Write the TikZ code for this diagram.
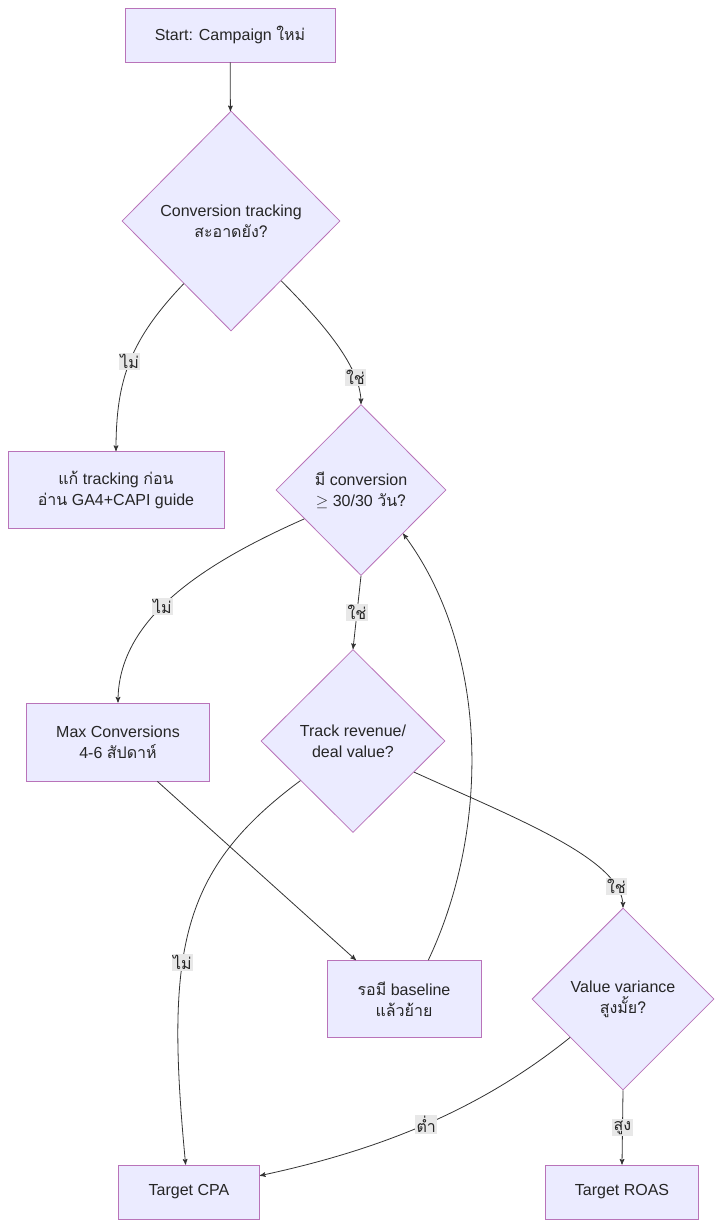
\documentclass[tikz,border=0pt]{standalone}
\usepackage{fontspec}
\setmainfont{Liberation Sans}
\newfontfamily\thaifont[Script=Thai]{Loma}
\newcommand{\thaitxt}[1]{{\thaifont #1}}
\usetikzlibrary{arrows,shapes.geometric}

\begin{document}
\begin{tikzpicture}[x=0.75pt,y=-0.75pt,->,>=stealth',semithick,
    every node/.style={font=\fontsize{12}{16}\selectfont,text=black!85,align=center},
    box/.style={shape=rectangle,draw=violet!55,fill=blue!8,inner sep=0pt},
    choice/.style={shape=diamond,draw=violet!55,fill=blue!8,inner sep=0pt},
    lbl/.style={fill=black!9,inner sep=1pt,text=black!85}]
                \useasboundingbox (0,0) rectangle (723,1227);
                \tikzset{every path/.append style={draw=black!80}}
                \node[box,minimum width=157.5pt,minimum height=40.5pt](start)at(230,35){Start: Campaign \thaitxt{ใหม่}};
                \node[choice,minimum width=163.5pt,minimum height=165pt](tracking)at(231,221){Conversion tracking\\\thaitxt{สะอาดยัง?}};
                \node[box,minimum width=162pt,minimum height=57.75pt](fix)at(116,490){\thaitxt{แก้} tracking \thaitxt{ก่อน}\\\thaitxt{อ่าน} GA4+CAPI guide};
                \node[choice,minimum width=127.5pt,minimum height=128.25pt](volume)at(361,490){\thaitxt{มี} conversion\\$\geq$ 30/30 \thaitxt{วัน?}};
                \node[box,minimum width=137.25pt,minimum height=58.5pt](maxconv)at(118,742){Max Conversions\\4-6 \thaitxt{สัปดาห์}};
                \node[choice,minimum width=138pt,minimum height=137.25pt](revenue)at(353,741){Track revenue/\\deal value?};
                \node[box,minimum width=115.5pt,minimum height=57.75pt](wait)at(404,999){\thaitxt{รอมี} baseline\\\thaitxt{แล้วย้าย}};
                \node[choice,minimum width=136.5pt,minimum height=136.5pt](variance)at(623,999){Value variance\\\thaitxt{สูงมั้ย?}};
                \node[box,minimum width=105.75pt,minimum height=40.5pt](cpa)at(189,1192){Target CPA};
                \node[box,minimum width=114.75pt,minimum height=40.5pt](roas)at(622,1192){Target ROAS};

                \draw (start) -- (tracking);
                \draw (tracking.-127) .. controls (130,340) and (116,380) .. node[lbl,pos=0.5]{\thaitxt{ไม่}} (fix.north);
                \draw (tracking.-50) .. controls (330,330) and (361,370) .. node[lbl,pos=0.75]{\thaitxt{ใช่}} (volume.north);
                \draw (volume.207) .. controls (200,565) and (118,620) .. node[lbl,pos=0.55]{\thaitxt{ไม่}} (maxconv.north);
                \draw (volume.south) -- node[lbl]{\thaitxt{ใช่}} (revenue.north);
                \draw (revenue.217) .. controls (180,870) and (165,950) .. node[lbl,pos=0.6]{\thaitxt{ไม่}} (cpa.97);
                \draw (revenue.-27) .. controls (520,820) and (623,860) .. node[lbl,pos=0.85]{\thaitxt{ใช่}} (variance.north);
                \draw (maxconv.-45) -- (wait.141);
                \draw (wait.58) .. controls (490,830) and (490,650) .. (volume.-46);
                \draw (variance.216) .. controls (480,1110) and (380,1150) .. node[lbl,pos=0.5]{\thaitxt{ต่ำ}} (cpa.13);
                \draw (variance.south) -- node[lbl]{\thaitxt{สูง}} (roas.north);
            \end{tikzpicture}
\end{document}
